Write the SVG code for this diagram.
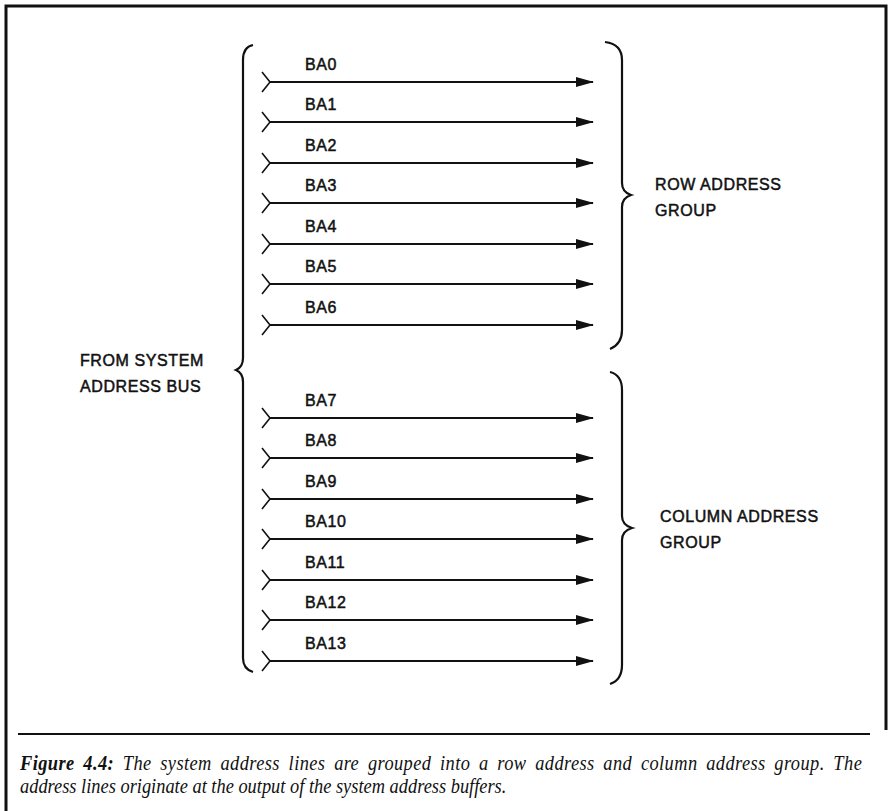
<svg xmlns="http://www.w3.org/2000/svg" width="889" height="811" viewBox="0 0 889 811">
<defs>
<style>
.lbl{font-family:"Liberation Sans",Arial,sans-serif;font-size:16px;fill:#111;stroke:#111;stroke-width:0.5;letter-spacing:0.6px}
.ln{stroke:#111;stroke-width:2;fill:none}
.br{stroke:#111;stroke-width:2.2;fill:none}
.tail{stroke:#111;stroke-width:1.6;fill:none}
.cap{font-family:"Liberation Serif","Times New Roman",serif;font-size:20px;font-style:italic;fill:#111}
</style>
<marker id="ah" viewBox="0 0 18 10" refX="17" refY="5" markerWidth="18" markerHeight="10" markerUnits="userSpaceOnUse" orient="auto">
<path d="M0,0 L18,5 L0,10 Z" fill="#111"/>
</marker>
</defs>
<rect width="889" height="811" fill="#fff"/>
<g id="frame" stroke="#111" stroke-width="3" fill="none">
<path d="M6,811 L6,6 L886,6 L886,730"/>
</g>
<g id="source">
<text class="lbl" x="80" y="366">FROM SYSTEM</text>
<text class="lbl" x="80" y="392">ADDRESS BUS</text>
<path class="br" d="M253,45 Q243,47 243,60 L243,358 Q243,367 236,370 Q243,373 243,382 L243,658 Q243,669 253,672"/>
</g>
<g id="row-group">
<path class="br" d="M605,42 Q622,44 622,60 L622,183 Q622,192 631,195 Q622,198 622,207 L622,330 Q622,344 610,349"/>
<text class="lbl" x="655" y="190">ROW ADDRESS</text>
<text class="lbl" x="655" y="216">GROUP</text>
</g>
<g id="column-group">
<path class="br" d="M610,372 Q622,375 622,390 L622,516 Q622,525 632,528 Q622,531 622,540 L622,665 Q622,680 610,684"/>
<text class="lbl" x="660" y="522">COLUMN ADDRESS</text>
<text class="lbl" x="660" y="548">GROUP</text>
</g>
<g id="labels">
<text class="lbl" x="305" y="70">BA0</text>
<text class="lbl" x="305" y="110">BA1</text>
<text class="lbl" x="305" y="151">BA2</text>
<text class="lbl" x="305" y="191">BA3</text>
<text class="lbl" x="305" y="232">BA4</text>
<text class="lbl" x="305" y="272">BA5</text>
<text class="lbl" x="305" y="313">BA6</text>
<text class="lbl" x="305" y="406">BA7</text>
<text class="lbl" x="305" y="446">BA8</text>
<text class="lbl" x="305" y="487">BA9</text>
<text class="lbl" x="305" y="527">BA10</text>
<text class="lbl" x="305" y="568">BA11</text>
<text class="lbl" x="305" y="608">BA12</text>
<text class="lbl" x="305" y="649">BA13</text>
</g>
<g id="connectors">
<g class="tail">
<path d="M262,72 L270,82 L262,92"/>
<path d="M262,112 L270,122 L262,132"/>
<path d="M262,153 L270,163 L262,173"/>
<path d="M262,193 L270,203 L262,213"/>
<path d="M262,234 L270,244 L262,254"/>
<path d="M262,274 L270,284 L262,294"/>
<path d="M262,315 L270,325 L262,335"/>
<path d="M262,408 L270,418 L262,428"/>
<path d="M262,448 L270,458 L262,468"/>
<path d="M262,489 L270,499 L262,509"/>
<path d="M262,529 L270,539 L262,549"/>
<path d="M262,570 L270,580 L262,590"/>
<path d="M262,610 L270,620 L262,630"/>
<path d="M262,651 L270,661 L262,671"/>
</g>
<g class="ln" marker-end="url(#ah)">
<line x1="270" y1="82" x2="593" y2="82"/>
<line x1="270" y1="122" x2="593" y2="122"/>
<line x1="270" y1="163" x2="593" y2="163"/>
<line x1="270" y1="203" x2="593" y2="203"/>
<line x1="270" y1="244" x2="593" y2="244"/>
<line x1="270" y1="284" x2="593" y2="284"/>
<line x1="270" y1="325" x2="593" y2="325"/>
<line x1="270" y1="418" x2="593" y2="418"/>
<line x1="270" y1="458" x2="593" y2="458"/>
<line x1="270" y1="499" x2="593" y2="499"/>
<line x1="270" y1="539" x2="593" y2="539"/>
<line x1="270" y1="580" x2="593" y2="580"/>
<line x1="270" y1="620" x2="593" y2="620"/>
<line x1="270" y1="661" x2="593" y2="661"/>
</g>
</g>
<g id="caption">
<line x1="18" y1="734" x2="870" y2="734" stroke="#111" stroke-width="2"/>
<g transform="translate(20,0) scale(0.92,1)">
<text class="cap" x="0" y="770" word-spacing="4" textLength="915" lengthAdjust="spacing"><tspan font-weight="bold">Figure 4.4:</tspan> The system address lines are grouped into a row address and column address group. The</text>
<text class="cap" x="0" y="793">address lines originate at the output of the system address buffers.</text>
</g>
</g>
</svg>
